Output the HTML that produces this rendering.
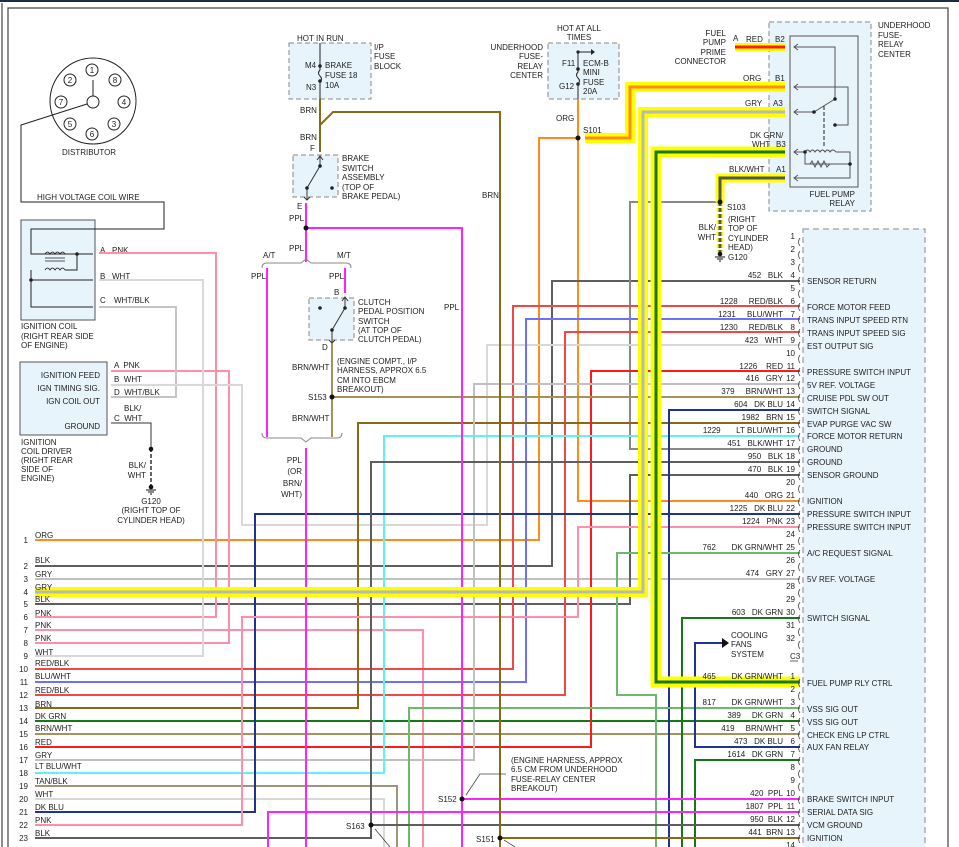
<!DOCTYPE html>
<html><head><meta charset="utf-8"><style>
html,body{margin:0;padding:0;background:#fff}
svg{display:block}
text{font-family:"Liberation Sans",sans-serif;font-size:8px;fill:#222;white-space:pre}
.e{text-anchor:end}
.m{text-anchor:middle}
</style></head><body>
<svg width="959" height="847" viewBox="0 0 959 847" xmlns="http://www.w3.org/2000/svg" xml:space="preserve">
<rect x="0" y="0" width="959" height="2" fill="#1c2c48"/>
<path d="M2,847V3 M8,847V8H948V847" fill="none" stroke="#444" stroke-width="1.2"/>

<!-- boxes -->
<rect x="21" y="220" width="74" height="100" fill="#e8f4fc" stroke="#555"/>
<rect x="20" y="362" width="87" height="73" fill="#e8f4fc" stroke="#555"/>
<rect x="289" y="43" width="82" height="56" fill="#e8f4fc" stroke="#888" stroke-dasharray="5,3"/>
<rect x="293" y="155" width="45" height="42" fill="#e8f4fc" stroke="#888" stroke-dasharray="5,3"/>
<rect x="309" y="298" width="45" height="42" fill="#e8f4fc" stroke="#888" stroke-dasharray="5,3"/>
<rect x="548" y="43" width="71" height="56" fill="#e8f4fc" stroke="#888" stroke-dasharray="5,3"/>
<rect x="769" y="22" width="102" height="189" fill="#e8f4fc" stroke="#888" stroke-dasharray="5,3"/>
<rect x="790" y="36" width="68" height="151" fill="none" stroke="#555"/>
<rect x="803" y="229" width="122" height="630" fill="#e8f4fc" stroke="#888" stroke-dasharray="6,4"/>

<!-- distributor -->
<g fill="none" stroke="#222">
<circle cx="93" cy="101" r="43"/>
<circle cx="93" cy="102" r="6"/>
<path d="M93,80V96 M87,104L21,125V202H164V229H31V254H93 M31,270V307H93 M31,280H93 M65,270H77V254"/>
<path d="M45,254q2.5,-4 5,0q2.5,-4 5,0q2.5,-4 5,0q2.5,-4 5,0 M45,258H65 M45,261H65 M45,270q2.5,-4 5,0q2.5,-4 5,0q2.5,-4 5,0q2.5,-4 5,0" stroke-width="0.8"/>
</g>
<g fill="#fff" stroke="#222">
<circle cx="92" cy="70" r="6"/><circle cx="115" cy="80" r="6"/><circle cx="124" cy="102" r="6"/><circle cx="114" cy="124" r="6"/>
<circle cx="92" cy="134" r="6"/><circle cx="70" cy="124" r="6"/><circle cx="61" cy="102" r="6"/><circle cx="70" cy="80" r="6"/>
</g>
<g font-size="7">
<text x="92" y="73" class="m">1</text><text x="115" y="83" class="m">8</text><text x="124" y="105" class="m">4</text><text x="114" y="127" class="m">3</text>
<text x="92" y="137" class="m">6</text><text x="70" y="127" class="m">5</text><text x="61" y="105" class="m">7</text><text x="70" y="83" class="m">2</text>
</g>
<circle cx="77" cy="254" r="1.8" fill="#222"/><circle cx="31" cy="280" r="1.8" fill="#222"/>
<text x="62" y="155">DISTRIBUTOR</text>
<text x="37" y="200">HIGH VOLTAGE COIL WIRE</text>
<text x="21" y="329">IGNITION COIL</text><text x="21" y="339">(RIGHT REAR SIDE</text><text x="21" y="348">OF ENGINE)</text>
<text x="100" y="253">A</text><text x="112" y="253">PNK</text>
<text x="100" y="279">B</text><text x="112" y="279">WHT</text>
<text x="100" y="303">C</text><text x="114" y="303">WHT/BLK</text>
<text x="100" y="378" class="e">IGNITION FEED</text><text x="100" y="391" class="e">IGN TIMING SIG.</text>
<text x="100" y="404" class="e">IGN COIL OUT</text><text x="100" y="429" class="e">GROUND</text>
<text x="114" y="368">A  PNK</text><text x="114" y="382">B  WHT</text><text x="114" y="395">D  WHT/BLK</text>
<text x="124" y="411">BLK/</text><text x="114" y="421">C  WHT</text>
<text x="21" y="445">IGNITION</text><text x="21" y="454">COIL DRIVER</text><text x="21" y="463">(RIGHT REAR</text><text x="21" y="472">SIDE OF</text><text x="21" y="481">ENGINE)</text>
<text x="146" y="468" class="e">BLK/</text><text x="146" y="478" class="e">WHT</text>
<text x="151" y="504" class="m">G120</text><text x="151" y="513" class="m">(RIGHT TOP OF</text><text x="151" y="523" class="m">CYLINDER HEAD)</text>
<path d="M111,423H151V448" fill="none" stroke="#333"/>
<path d="M151,448V486" stroke="#333" stroke-width="1.5" stroke-dasharray="4,2"/>
<circle cx="151" cy="449" r="2.3" fill="#111"/><circle cx="151" cy="487" r="2.3" fill="#111"/>
<path d="M146,490H156M148,492H154M150,494H152" stroke="#111"/>

<!-- brake -->
<text x="297" y="41">HOT IN RUN</text>
<text x="374" y="50">I/P</text><text x="374" y="59">FUSE</text><text x="374" y="69">BLOCK</text>
<text x="305" y="68">M4</text><text x="306" y="90">N3</text>
<text x="325" y="68">BRAKE</text><text x="325" y="78">FUSE 18</text><text x="325" y="88">10A</text>
<path d="M320,43V70q-3,3 0,6q3,3 0,6V99" fill="none" stroke="#222"/>
<circle cx="320" cy="66" r="1.8" fill="#222"/><circle cx="320" cy="81" r="1.8" fill="#222"/>
<text x="300" y="113">BRN</text><text x="300" y="140">BRN</text><text x="310" y="151">F</text>
<text x="342" y="161">BRAKE</text><text x="342" y="171">SWITCH</text><text x="342" y="180">ASSEMBLY</text><text x="342" y="190">(TOP OF</text><text x="342" y="199">BRAKE PEDAL)</text>
<path d="M320,156V166L307,188V200M317,160l3,-4l3,4M304,197l3,3l3,-3" fill="none" stroke="#333"/>
<circle cx="320" cy="166" r="1.8" fill="#222"/><circle cx="307" cy="188" r="1.8" fill="#222"/><circle cx="332" cy="188" r="1.8" fill="#222"/>
<text x="297" y="209">E</text>
<text x="289" y="221">PPL</text><text x="289" y="251">PPL</text>
<text x="263" y="258">A/T</text><text x="337" y="258">M/T</text>
<path d="M262,268Q262,263 267,263H301L306,259L311,263H346Q351,263 351,268" fill="none" stroke="#888"/>
<path d="M262,433Q262,438 267,438H301L306,442L311,438H337Q342,438 342,433" fill="none" stroke="#888"/>
<text x="251" y="279">PPL</text><text x="329" y="279">PPL</text><text x="334" y="295">B</text>
<text x="358" y="305">CLUTCH</text><text x="358" y="314">PEDAL POSITION</text><text x="358" y="324">SWITCH</text><text x="358" y="333">(AT TOP OF</text><text x="358" y="342">CLUTCH PEDAL)</text>
<path d="M345,297V308L332,330V342M342,301l3,-4l3,4M329,340l3,3l3,-3" fill="none" stroke="#333"/>
<circle cx="345" cy="308" r="1.8" fill="#222"/><circle cx="332" cy="330" r="1.8" fill="#222"/><circle cx="320" cy="308" r="1.8" fill="#222"/>
<text x="322" y="350">D</text>
<text x="292" y="370">BRN/WHT</text><text x="292" y="421">BRN/WHT</text><text x="308" y="400">S153</text>
<text x="337" y="364">(ENGINE COMPT., I/P</text><text x="337" y="373">HARNESS, APPROX 6.5</text><text x="337" y="383">CM INTO EBCM</text><text x="337" y="392">BREAKOUT)</text>
<text x="302" y="463" class="e">PPL</text><text x="302" y="474" class="e">(OR</text><text x="302" y="486" class="e">BRN/</text><text x="302" y="497" class="e">WHT)</text>
<text x="444" y="310">PPL</text><text x="482" y="198">BRN</text>

<!-- underhood fuse -->
<text x="579" y="31" class="m">HOT AT ALL</text><text x="579" y="40" class="m">TIMES</text>
<text x="543" y="50" class="e">UNDERHOOD</text><text x="543" y="59" class="e">FUSE-</text><text x="543" y="69" class="e">RELAY</text><text x="543" y="78" class="e">CENTER</text>
<text x="562" y="66">F11</text><text x="559" y="89">G12</text>
<text x="583" y="66">ECM-B</text><text x="583" y="75">MINI</text><text x="583" y="85">FUSE</text><text x="583" y="94">20A</text>
<path d="M578,52V72q-3,3 0,6q3,3 0,6V99 M578,52H592" fill="none" stroke="#222"/>
<path d="M591,49l4,3l-4,3z" fill="#222"/>
<circle cx="578" cy="52" r="1.6" fill="#222"/><circle cx="578" cy="69" r="1.8" fill="#222"/><circle cx="578" cy="84" r="1.8" fill="#222"/>
<text x="556" y="121">ORG</text><text x="583" y="133">S101</text>

<!-- relay -->
<text x="878" y="28">UNDERHOOD</text><text x="878" y="38">FUSE-</text><text x="878" y="47">RELAY</text><text x="878" y="57">CENTER</text>
<text x="726" y="36" class="e">FUEL</text><text x="726" y="45" class="e">PUMP</text><text x="726" y="55" class="e">PRIME</text><text x="726" y="64" class="e">CONNECTOR</text>
<text x="855" y="197" class="e">FUEL PUMP</text><text x="855" y="206" class="e">RELAY</text>
<g fill="none" stroke="#555">
<path d="M794,47H835V99 M794,87H848V125H835 M794,112H814L835,99 M794,152H805 M836,152H850V164H805V152 M794,178H850V164"/>
<path d="M805,152q2.5,-4 5,0q2.5,-4 5,0q2.5,-4 5,0q2.5,-4 5,0q2.5,-4 5,0q2.5,-4 6,0 M810,164l2,-3l3,6l3,-6l3,6l3,-6l3,6l3,-3"/>
<path d="M824,106V148" stroke-dasharray="4,2" stroke="#222"/>
<path d="M798,44l-4,3l4,3 M798,84l-4,3l4,3 M798,109l-4,3l4,3 M798,149l-4,3l4,3 M798,175l-4,3l4,3"/>
</g>
<circle cx="835" cy="99" r="1.8" fill="#222"/><circle cx="835" cy="125" r="1.8" fill="#222"/><circle cx="814" cy="112" r="1.8" fill="#222"/>
<circle cx="805" cy="152" r="1.8" fill="#222"/><circle cx="850" cy="164" r="1.8" fill="#222"/>
<text x="727" y="210">S103</text><text x="728" y="222">(RIGHT</text><text x="728" y="231">TOP OF</text><text x="728" y="241">CYLINDER</text><text x="728" y="250">HEAD)</text><text x="728" y="260">G120</text>
<text x="716" y="230" class="e">BLK/</text><text x="716" y="240" class="e">WHT</text>

<!-- wires -->
<g fill="none" stroke-width="2">
<path d="M35,540H539V138H578M578,99V501H800" stroke="#ff8c1a"/>
<path d="M35,566H552V281H800" stroke="#5e5e5e"/>
<path d="M35,579H800" stroke="#c0c0c0"/>
<path d="M35,604H630V475H800" stroke="#5e5e5e"/>
<path d="M800,449H630V202H720" stroke="#888"/>
<path d="M35,617H216V253H99" stroke="#ff8ea8"/>
<path d="M35,630H423V847" stroke="#ff8ea8"/>
<path d="M35,643H229V371H111" stroke="#ff8ea8"/>
<path d="M35,656H203V280H99" stroke="#d8d8d8"/>
<path d="M99,307H176V397H111" stroke="#c4c4c4"/>
<path d="M111,385H242V525H487V345H800" stroke="#d8d8d8"/>
<path d="M35,669H513V306H800" stroke="#f04848"/>
<path d="M35,682H526V319H800" stroke="#6e6eff"/>
<path d="M35,695H565V332H800" stroke="#f04848"/>
<path d="M35,708H358V423H800" stroke="#8b6914"/>
<path d="M35,721H800" stroke="#137a13"/>
<path d="M35,734H800" stroke="#a8905a"/>
<path d="M35,747H591V371H800" stroke="#ff1a1a"/>
<path d="M35,760H474V384H800" stroke="#c0c0c0"/>
<path d="M35,773H384V436H800" stroke="#5ff2f2"/>
<path d="M35,786H397V847" stroke="#a09478"/>
<path d="M35,799H384V847" stroke="#d8d8d8"/>
<path d="M35,812H255V514H800" stroke="#1e3490"/>
<path d="M35,825H242V617H578V527H800" stroke="#ff8ea8"/>
<path d="M35,838H371V462H800" stroke="#5e5e5e"/>
<path d="M332,343V437 M332,397H800" stroke="#a8905a"/>
<path d="M800,410H669V847" stroke="#1e3490"/>
<path d="M800,553H617V695H656V847" stroke="#6cb86c"/>
<path d="M800,708H409V847" stroke="#6cb86c"/>
<path d="M800,747H695V643H722" stroke="#1e3490"/>
<path d="M800,760H695V847" stroke="#137a13"/>
<path d="M800,618H682V847" stroke="#137a13"/>
<path d="M800,799H462" stroke="#ff22ff"/>
<path d="M800,812H268V847" stroke="#ff22ff"/>
<path d="M800,825H371" stroke="#5e5e5e"/>
<path d="M800,838H500" stroke="#8b6914"/>
<path d="M306,203V262 M306,228H462V847 M267,268V437 M345,268V293 M306,448V847" stroke="#ff22ff"/>
<path d="M320,99V152 M320,125L333,112H500V847" stroke="#8b6914"/>
<!-- highlighted -->
<path d="M35,592H643V112H785" stroke="#ffff00" stroke-width="10"/>
<path d="M585,138H630V87H785" stroke="#ffff00" stroke-width="10"/>
<path d="M785,152H656V682H800" stroke="#ffff00" stroke-width="11"/>
<path d="M785,178H720V202" stroke="#ffff00" stroke-width="9"/>
<path d="M720,202V252" stroke="#ffff00" stroke-width="7" stroke-dasharray="4,2"/>
<path d="M735,47H785" stroke="#ffff00" stroke-width="8"/>
<path d="M35,592H643V112H785" stroke="#b8b8b8" stroke-width="3"/>
<path d="M585,138H630V87H785" stroke="#ff8c1a" stroke-width="3"/>
<path d="M785,152H656V682H800" stroke="#137a13" stroke-width="3"/>
<path d="M785,178H720V202" stroke="#555" stroke-width="3"/>
<path d="M720,202V252" stroke="#555" stroke-width="3" stroke-dasharray="4,2"/>
<path d="M735,47H785" stroke="#ff1a1a" stroke-width="3"/>
</g>
<!-- relay wire labels on top -->
<text x="733" y="41">A</text><text x="746" y="42">RED</text><text x="775" y="42">B2</text>
<text x="743" y="81">ORG</text><text x="775" y="81">B1</text>
<text x="745" y="106">GRY</text><text x="773" y="106">A3</text>
<text x="750" y="138">DK GRN/</text><text x="752" y="147">WHT</text><text x="776" y="147">B3</text>
<text x="729" y="172">BLK/WHT</text><text x="776" y="172">A1</text>

<path d="M722,638l7,5l-7,5z" fill="#111"/>
<circle cx="720" cy="202" r="2.5" fill="#111"/><circle cx="720" cy="254" r="2.3" fill="#111"/>
<path d="M715,257H725M717,259H723M719,261H721" stroke="#111"/>
<circle cx="578" cy="138" r="2.5" fill="#111"/>
<circle cx="306" cy="228" r="2.5" fill="#111"/>
<circle cx="332" cy="397" r="2.5" fill="#111"/>
<circle cx="462" cy="799" r="2.5" fill="#111"/>
<circle cx="371" cy="825" r="2.5" fill="#111"/>
<circle cx="500" cy="838" r="2.5" fill="#111"/>
<text x="438" y="802">S152</text><text x="346" y="829">S163</text><text x="476" y="842">S151</text>
<text x="511" y="763">(ENGINE HARNESS, APPROX</text><text x="511" y="772">6.5 CM FROM UNDERHOOD</text><text x="511" y="782">FUSE-RELAY CENTER</text><text x="511" y="791">BREAKOUT)</text>
<path d="M506,774H480L466,795 M375,829L390,847 M504,840L515,847" fill="none" stroke="#444" stroke-width="0.8"/>
<text x="731" y="638">COOLING</text><text x="731" y="647">FANS</text><text x="731" y="657">SYSTEM</text>
<text x="790" y="659">C3</text><path d="M790,661H798" stroke="#222" stroke-width="0.7"/>

<!-- left row labels -->
<g>
<text x="28" y="543" class="e">1</text><text x="35" y="538">ORG</text>
<text x="28" y="569" class="e">2</text><text x="35" y="563">BLK</text>
<text x="28" y="582" class="e">3</text><text x="35" y="577">GRY</text>
<text x="28" y="595" class="e">4</text><text x="35" y="590">GRY</text>
<text x="28" y="607" class="e">5</text><text x="35" y="602">BLK</text>
<text x="28" y="620" class="e">6</text><text x="35" y="616">PNK</text>
<text x="28" y="633" class="e">7</text><text x="35" y="628">PNK</text>
<text x="28" y="646" class="e">8</text><text x="35" y="641">PNK</text>
<text x="28" y="659" class="e">9</text><text x="35" y="655">WHT</text>
<text x="28" y="672" class="e">10</text><text x="35" y="666">RED/BLK</text>
<text x="28" y="685" class="e">11</text><text x="35" y="679">BLU/WHT</text>
<text x="28" y="698" class="e">12</text><text x="35" y="693">RED/BLK</text>
<text x="28" y="711" class="e">13</text><text x="35" y="707">BRN</text>
<text x="28" y="724" class="e">14</text><text x="35" y="719">DK GRN</text>
<text x="28" y="737" class="e">15</text><text x="35" y="731">BRN/WHT</text>
<text x="28" y="750" class="e">16</text><text x="35" y="745">RED</text>
<text x="28" y="763" class="e">17</text><text x="35" y="758">GRY</text>
<text x="28" y="776" class="e">18</text><text x="35" y="769">LT BLU/WHT</text>
<text x="28" y="789" class="e">19</text><text x="35" y="784">TAN/BLK</text>
<text x="28" y="802" class="e">20</text><text x="35" y="797">WHT</text>
<text x="28" y="815" class="e">21</text><text x="35" y="810">DK BLU</text>
<text x="28" y="828" class="e">22</text><text x="35" y="823">PNK</text>
<text x="28" y="841" class="e">23</text><text x="35" y="836">BLK</text>
</g>

<!-- connector pins -->
<g font-size="8">
<text x="795" y="239" class="e">1</text><text x="795" y="252" class="e">2</text><text x="795" y="265" class="e">3</text>
<text x="795" y="278" class="e">4</text><text x="795" y="291" class="e">5</text><text x="795" y="304" class="e">6</text>
<text x="795" y="317" class="e">7</text><text x="795" y="330" class="e">8</text><text x="795" y="343" class="e">9</text>
<text x="795" y="356" class="e">10</text><text x="795" y="369" class="e">11</text><text x="795" y="381" class="e">12</text>
<text x="795" y="394" class="e">13</text><text x="795" y="407" class="e">14</text><text x="795" y="420" class="e">15</text>
<text x="795" y="433" class="e">16</text><text x="795" y="446" class="e">17</text><text x="795" y="459" class="e">18</text>
<text x="795" y="472" class="e">19</text><text x="795" y="485" class="e">20</text><text x="795" y="498" class="e">21</text>
<text x="795" y="511" class="e">22</text><text x="795" y="524" class="e">23</text><text x="795" y="537" class="e">24</text>
<text x="795" y="550" class="e">25</text><text x="795" y="563" class="e">26</text><text x="795" y="576" class="e">27</text>
<text x="795" y="589" class="e">28</text><text x="795" y="602" class="e">29</text><text x="795" y="615" class="e">30</text>
<text x="795" y="628" class="e">31</text><text x="795" y="641" class="e">32</text>
<text x="795" y="679" class="e">1</text><text x="795" y="692" class="e">2</text><text x="795" y="705" class="e">3</text>
<text x="795" y="718" class="e">4</text><text x="795" y="731" class="e">5</text><text x="795" y="744" class="e">6</text>
<text x="795" y="757" class="e">7</text><text x="795" y="770" class="e">8</text><text x="795" y="783" class="e">9</text>
<text x="795" y="796" class="e">10</text><text x="795" y="809" class="e">11</text><text x="795" y="822" class="e">12</text>
<text x="795" y="835" class="e">13</text><text x="795" y="848" class="e">14</text>
</g>
<g fill="none" stroke="#444" stroke-width="0.8">
<path d="M800,238q-3,4 0,8M800,251q-3,4 0,8M800,264q-3,4 0,8M800,277q-3,4 0,8M800,290q-3,4 0,8M800,303q-3,4 0,8M800,316q-3,4 0,8M800,329q-3,4 0,8M800,342q-3,4 0,8M800,355q-3,4 0,8M800,368q-3,4 0,8M800,381q-3,4 0,8M800,394q-3,4 0,8M800,407q-3,4 0,8M800,420q-3,4 0,8M800,433q-3,4 0,8M800,446q-3,4 0,8M800,459q-3,4 0,8M800,472q-3,4 0,8M800,485q-3,4 0,8M800,498q-3,4 0,8M800,511q-3,4 0,8M800,524q-3,4 0,8M800,537q-3,4 0,8M800,550q-3,4 0,8M800,563q-3,4 0,8M800,576q-3,4 0,8M800,589q-3,4 0,8M800,602q-3,4 0,8M800,615q-3,4 0,8M800,628q-3,4 0,8M800,641q-3,4 0,8"/>
<path d="M800,679q-3,4 0,8M800,692q-3,4 0,8M800,705q-3,4 0,8M800,718q-3,4 0,8M800,731q-3,4 0,8M800,744q-3,4 0,8M800,757q-3,4 0,8M800,770q-3,4 0,8M800,783q-3,4 0,8M800,796q-3,4 0,8M800,809q-3,4 0,8M800,822q-3,4 0,8M800,835q-3,4 0,8"/>
</g>
<!-- wire ids -->
<g>
<text x="783" y="278" class="e">452   BLK</text>
<text x="783" y="304" class="e">1228     RED/BLK</text>
<text x="783" y="317" class="e">1231     BLU/WHT</text>
<text x="783" y="330" class="e">1230     RED/BLK</text>
<text x="783" y="343" class="e">423   WHT</text>
<text x="783" y="369" class="e">1226    RED</text>
<text x="783" y="381" class="e">416   GRY</text>
<text x="783" y="394" class="e">379     BRN/WHT</text>
<text x="783" y="407" class="e">604   DK BLU</text>
<text x="783" y="420" class="e">1982   BRN</text>
<text x="783" y="433" class="e">1229       LT BLU/WHT</text>
<text x="783" y="446" class="e">451   BLK/WHT</text>
<text x="783" y="459" class="e">950   BLK</text>
<text x="783" y="472" class="e">470   BLK</text>
<text x="783" y="498" class="e">440   ORG</text>
<text x="783" y="511" class="e">1225   DK BLU</text>
<text x="783" y="524" class="e">1224   PNK</text>
<text x="783" y="550" class="e">762       DK GRN/WHT</text>
<text x="783" y="576" class="e">474   GRY</text>
<text x="783" y="615" class="e">603   DK GRN</text>
<text x="783" y="679" class="e">465       DK GRN/WHT</text>
<text x="783" y="705" class="e">817       DK GRN/WHT</text>
<text x="783" y="718" class="e">389     DK GRN</text>
<text x="783" y="731" class="e">419     BRN/WHT</text>
<text x="783" y="744" class="e">473   DK BLU</text>
<text x="783" y="757" class="e">1614   DK GRN</text>
<text x="783" y="796" class="e">420  PPL</text>
<text x="783" y="809" class="e">1807  PPL</text>
<text x="783" y="822" class="e">950  BLK</text>
<text x="783" y="835" class="e">441  BRN</text>
</g>
<g>
<text x="807" y="284">SENSOR RETURN</text>
<text x="807" y="310">FORCE MOTOR FEED</text>
<text x="807" y="323">TRANS INPUT SPEED RTN</text>
<text x="807" y="336">TRANS INPUT SPEED SIG</text>
<text x="807" y="349">EST OUTPUT SIG</text>
<text x="807" y="375">PRESSURE SWITCH INPUT</text>
<text x="807" y="388">5V REF. VOLTAGE</text>
<text x="807" y="401">CRUISE PDL SW OUT</text>
<text x="807" y="414">SWITCH SIGNAL</text>
<text x="807" y="427">EVAP PURGE VAC SW</text>
<text x="807" y="439">FORCE MOTOR RETURN</text>
<text x="807" y="452">GROUND</text>
<text x="807" y="465">GROUND</text>
<text x="807" y="478">SENSOR GROUND</text>
<text x="807" y="504">IGNITION</text>
<text x="807" y="517">PRESSURE SWITCH INPUT</text>
<text x="807" y="530">PRESSURE SWITCH INPUT</text>
<text x="807" y="556">A/C REQUEST SIGNAL</text>
<text x="807" y="582">5V REF. VOLTAGE</text>
<text x="807" y="621">SWITCH SIGNAL</text>
<text x="807" y="686">FUEL PUMP RLY CTRL</text>
<text x="807" y="712">VSS SIG OUT</text>
<text x="807" y="725">VSS SIG OUT</text>
<text x="807" y="738">CHECK ENG LP CTRL</text>
<text x="807" y="750">AUX FAN RELAY</text>
<text x="807" y="802">BRAKE SWITCH INPUT</text>
<text x="807" y="815">SERIAL DATA SIG</text>
<text x="807" y="828">VCM GROUND</text>
<text x="807" y="841">IGNITION</text>
</g>
</svg>
</body></html>
